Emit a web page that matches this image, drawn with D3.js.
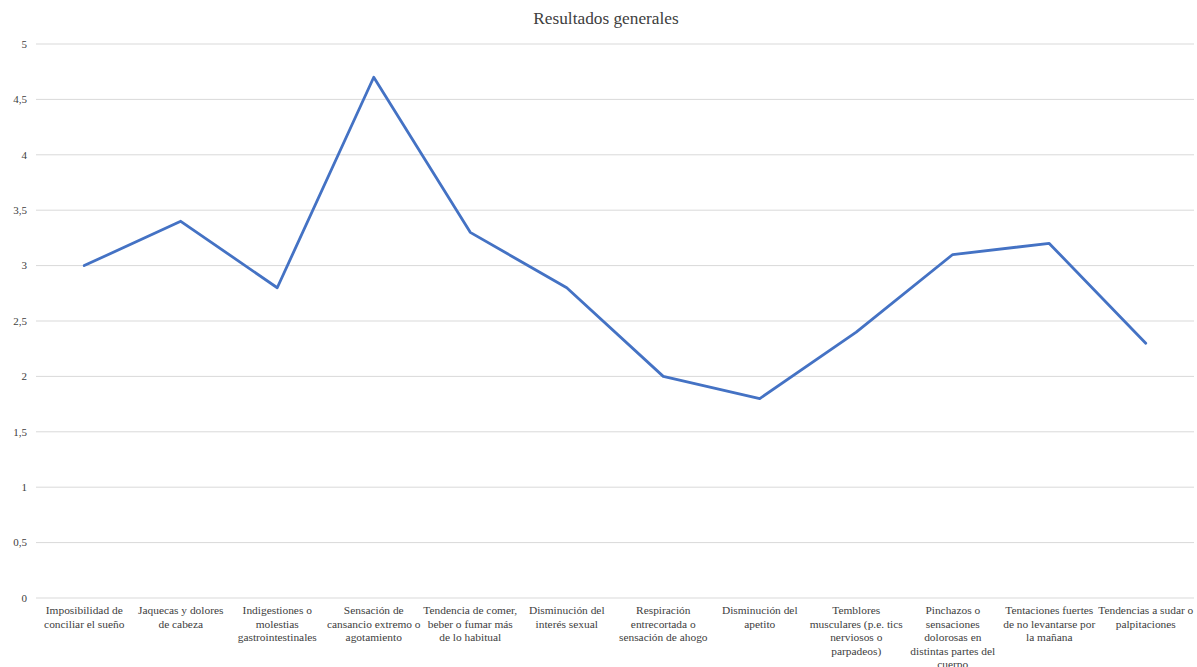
<!DOCTYPE html>
<html>
<head>
<meta charset="utf-8">
<script src="https://cdn.jsdelivr.net/npm/d3@7"></script>
<style>
html,body{margin:0;padding:0;background:#fff;}
svg{display:block;}
</style>
</head>
<body>
<svg id="chart" width="1197" height="667"></svg>
<script>
const title = "Resultados generales";
const categories = [
  ["Imposibilidad de", "conciliar el sueño"],
  ["Jaquecas y dolores", "de cabeza"],
  ["Indigestiones o", "molestias", "gastrointestinales"],
  ["Sensación de", "cansancio extremo o", "agotamiento"],
  ["Tendencia de comer,", "beber o fumar más", "de lo habitual"],
  ["Disminución del", "interés sexual"],
  ["Respiración", "entrecortada o", "sensación de ahogo"],
  ["Disminución del", "apetito"],
  ["Temblores", "musculares (p.e. tics", "nerviosos o", "parpadeos)"],
  ["Pinchazos o", "sensaciones", "dolorosas en", "distintas partes del", "cuerpo"],
  ["Tentaciones fuertes", "de no levantarse por", "la mañana"],
  ["Tendencias a sudar o", "palpitaciones"]
];
const values = [3, 3.4, 2.8, 4.7, 3.3, 2.8, 2.0, 1.8, 2.4, 3.1, 3.2, 2.3];
const yTicks = [0, 0.5, 1, 1.5, 2, 2.5, 3, 3.5, 4, 4.5, 5];

const svg = d3.select("#chart");
const margin = {left: 36, right: 3, top: 44, bottom: 69};
const W = 1197, H = 667;
const serif = "'Liberation Serif','Times New Roman',serif";

const x = d3.scaleBand().domain(d3.range(categories.length)).range([margin.left, W - margin.right]);
const y = d3.scaleLinear().domain([0, 5]).range([H - margin.bottom, margin.top]);

// gridlines
svg.append("g").selectAll("line").data(yTicks).join("line")
  .attr("x1", margin.left).attr("x2", W - margin.right)
  .attr("y1", d => y(d)).attr("y2", d => y(d))
  .attr("stroke", "#d9d9d9").attr("stroke-width", 1);

// y axis labels
const fmt = d => String(d).replace(".", ",");
svg.append("g").selectAll("text").data(yTicks).join("text")
  .attr("x", 27).attr("y", d => y(d)).attr("dy", "0.35em")
  .attr("text-anchor", "end")
  .attr("font-family", serif).attr("font-size", "11px").attr("fill", "#404040")
  .text(fmt);

// x labels
const xl = svg.append("g").selectAll("text").data(categories).join("text")
  .attr("text-anchor", "middle")
  .attr("font-family", serif).attr("font-size", "11.4px").attr("fill", "#404040")
  .attr("transform", (d, i) => `translate(${x(i) + x.bandwidth() / 2},${y(0) + 16})`);
xl.selectAll("tspan").data(d => d).join("tspan")
  .attr("x", 0).attr("y", (d, j) => j * 13.6)
  .text(d => d);

// line
const line = d3.line().x((d, i) => x(i) + x.bandwidth() / 2).y(d => y(d));
svg.append("path").datum(values)
  .attr("d", line)
  .attr("fill", "none").attr("stroke", "#4472c4").attr("stroke-width", 2.8)
  .attr("stroke-linejoin", "round").attr("stroke-linecap", "round");

// title
svg.append("text").attr("x", 606).attr("y", 24)
  .attr("text-anchor", "middle")
  .attr("font-family", serif).attr("font-size", "17.3px").attr("fill", "#404040")
  .text(title);
</script>
</body>
</html>
